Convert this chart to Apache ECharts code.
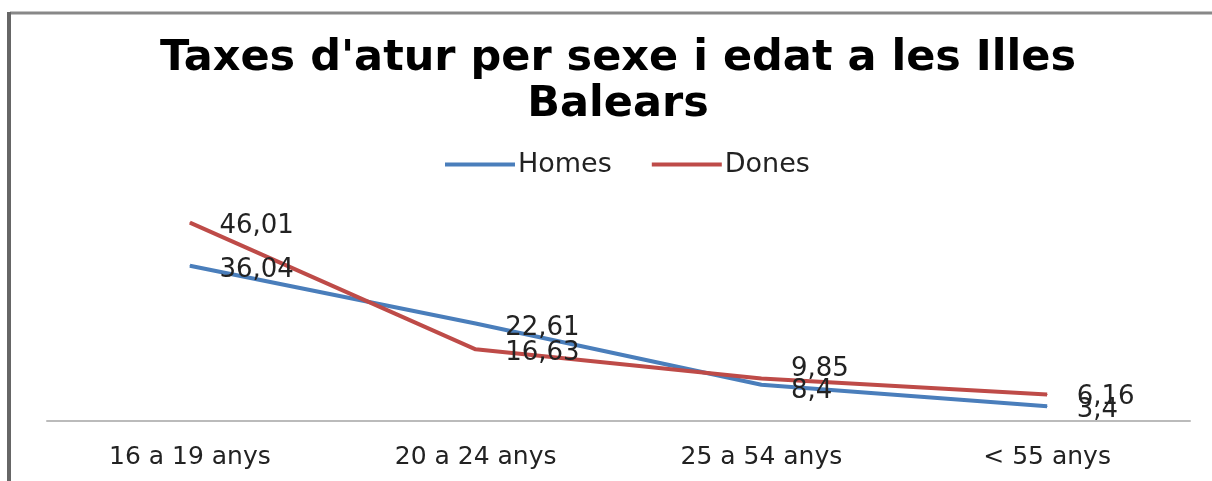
<!DOCTYPE html>
<html>
<head>
<meta charset="utf-8">
<script src="https://cdn.jsdelivr.net/npm/echarts@6/dist/echarts.min.js"></script>
<style>
  html, body { margin: 0; padding: 0; background: #fff; }
  #chart { width: 1212px; height: 481px; }
</style>
</head>
<body>
<div id="chart"></div>
<script>
// dades
const categories = ["16 a 19 anys", "20 a 24 anys", "25 a 54 anys", "< 55 anys"]
const homes = [36.04, 22.61, 8.4, 3.4]
const dones = [46.01, 16.63, 9.85, 6.16]

// petits desplaçaments verticals de les etiquetes (com a l'Excel)
const homesLabelDy = [5, 5, 7, 4]
const donesLabelDy = [4, 4, -9, 3]

const fmt = v => String(v).replace(".", ",")

function withLabels(values, dys) {
  return values.map((v, i) => ({
    value: v,
    label: { offset: [0, dys[i]] },
  }))
}

const labelStyle = {
  show: true,
  position: [30, 0],
  align: "left",
  verticalAlign: "middle",
  fontFamily: "DejaVu Sans",
  fontSize: 26,
  color: "#222",
  formatter: p => fmt(p.value),
}

const chart = echarts.init(document.getElementById("chart"))
chart.setOption({
  animation: false,
  title: {
    text: "Taxes d'atur per sexe i edat a les Illes\nBalears",
    left: 613,
    top: 31,
    textAlign: "center",
    textStyle: {
      fontFamily: "DejaVu Sans",
      fontWeight: "bold",
      fontSize: 43,
      lineHeight: 46,
      color: "#000",
    },
  },
  legend: {
    top: 146,
    left: 440,
    itemWidth: 70,
    itemHeight: 4,
    itemGap: 40,
    icon: "rect",
    textStyle: { fontFamily: "DejaVu Sans", fontSize: 27, color: "#222", padding: [0, 0, 0, -2] },
    data: ["Homes", "Dones"],
  },
  graphic: [
    { type: "line", shape: { x1: 10, y1: 13, x2: 1212, y2: 13 }, style: { stroke: "#888", lineWidth: 3 } },
    { type: "line", shape: { x1: 9, y1: 12, x2: 9, y2: 481 }, style: { stroke: "#666", lineWidth: 4 } },
  ],
  grid: { left: 47, right: 22, top: 205.5, bottom: 60 },
  xAxis: {
    type: "category",
    data: categories,
    boundaryGap: true,
    axisLine: { lineStyle: { color: "#bbb", width: 2 } },
    axisTick: { show: false },
    axisLabel: { fontFamily: "DejaVu Sans", fontSize: 25, color: "#222", margin: 24 },
  },
  yAxis: {
    type: "value",
    min: 0,
    max: 50,
    show: false,
    splitLine: { show: false },
  },
  series: [
    {
      name: "Homes",
      type: "line",
      data: withLabels(homes, homesLabelDy),
      symbol: "circle",
      symbolSize: 1,
      showSymbol: true,
      color: "#4a7ebb",
      lineStyle: { width: 4 },
      label: labelStyle,
    },
    {
      name: "Dones",
      type: "line",
      data: withLabels(dones, donesLabelDy),
      symbol: "circle",
      symbolSize: 1,
      showSymbol: true,
      color: "#be4b48",
      lineStyle: { width: 4 },
      label: labelStyle,
    },
  ],
})
</script>
</body>
</html>
